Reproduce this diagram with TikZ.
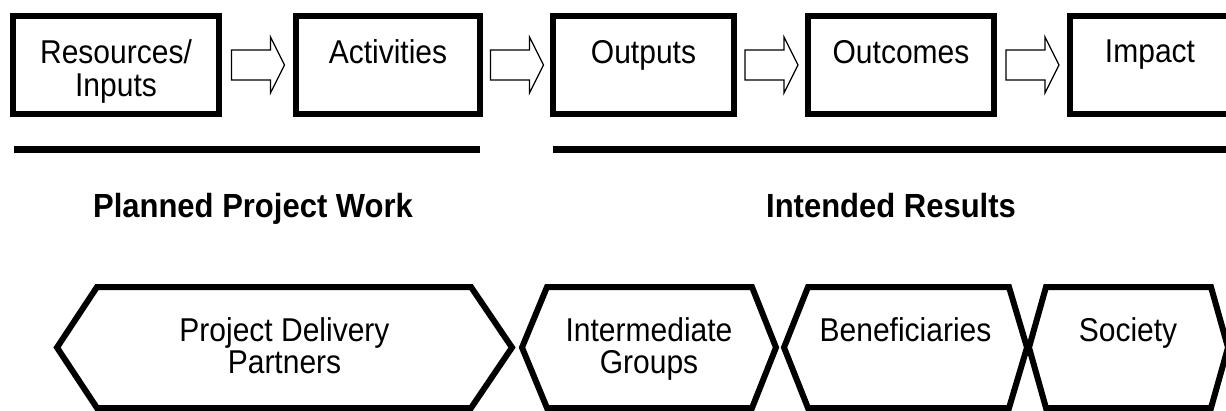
\documentclass[tikz,border=0pt]{standalone}
\usepackage{fontspec}
\setmainfont{Liberation Sans}
\usepackage{tikz}
\usetikzlibrary{calc}
\tikzset{
stage/.style={draw, rectangle, line width=6.5pt, minimum height=98pt, inner sep=0pt},
stagetext/.style={anchor=north, align=center, inner sep=0pt, yscale=1.1, transform shape, font=\fontsize{30}{30}\selectfont},
band/.style={line width=6pt, line join=miter},
bandtext/.style={anchor=north, align=center, inner sep=0pt, yscale=1.1, transform shape, font=\fontsize{30}{29}\selectfont},
rule/.style={line width=7pt},
heading/.style={anchor=base, inner sep=0pt, yscale=1.08, transform shape, font=\fontsize{31}{36}\selectfont\bfseries},
blockarrow/.pic={
  \draw[line width=1.2pt] (-26,-15) -- (13,-15) -- (13,-28) -- (27,0) -- (13,28) -- (13,15) -- (-26,15) -- cycle;
}
}

\begin{document}
\begin{tikzpicture}[x=1pt, y=1pt]
    \useasboundingbox (0,0) rectangle (1226,410);
    \clip (0,0) rectangle (1226,410);

    % stages of the chain
    \node[stage, minimum width=206pt] (res) at (116,345) {};
    \node[stage, minimum width=184pt] (act) at (388,345) {};
    \node[stage, minimum width=181pt] (out) at (643.5,345) {};
    \node[stage, minimum width=186pt] (outc) at (901,345) {};
    \node[stage, minimum width=160pt] (imp) at (1150,345) {};

    \node[stagetext] (res-txt) at ([yshift=-27pt]res.north) {Resources/\\Inputs};
    \node[stagetext] (act-txt) at ([yshift=-27pt]act.north) {Activities};
    \node[stagetext] (out-txt) at ([yshift=-27pt]out.north) {Outputs};
    \node[stagetext] (outc-txt) at ([yshift=-27pt]outc.north) {Outcomes};
    \node[stagetext] (imp-txt) at ([yshift=-27pt]imp.north) {Impact};

    \pic at ($(res.east)!0.5!(act.west)$) {blockarrow};
    \pic at ($(act.east)!0.5!(out.west)$) {blockarrow};
    \pic at ($(out.east)!0.5!(outc.west)$) {blockarrow};
    \pic at ($(outc.east)!0.5!(imp.west)$) {blockarrow};

    % the two spans
    \draw[rule] (14,260) -- (480,260);
    \draw[rule] (553,260) -- (1226,260);
    \node[heading] (work) at (253,192) {Planned Project Work};
    \node[heading] (results) at (891,192) {Intended Results};

    % who is involved
    \draw[band] (57,62.5) -- (97,123) -- (471,123) -- (512,62.5) -- (471,2) -- (97,2) -- cycle;
    \draw[band] (522,62.5) -- (547,123) -- (752,123) -- (776,62.5) -- (752,2) -- (547,2) -- cycle;
    \draw[band] (784,62.5) -- (808,123) -- (1009,123) -- (1027,62.5) -- (1009,2) -- (808,2) -- cycle;
    \draw[band] (1029,62.5) -- (1046,123) -- (1211,123) -- (1228,62.5) -- (1211,2) -- (1046,2) -- cycle;

    \node[bandtext] (partners) at (284.5,93) {Project Delivery\\Partners};
    \node[bandtext] (groups) at (649,93) {Intermediate\\Groups};
    \node[bandtext] (benef) at (905.5,93) {Beneficiaries};
    \node[bandtext] (society) at (1128,93) {Society};
\end{tikzpicture}
\end{document}
